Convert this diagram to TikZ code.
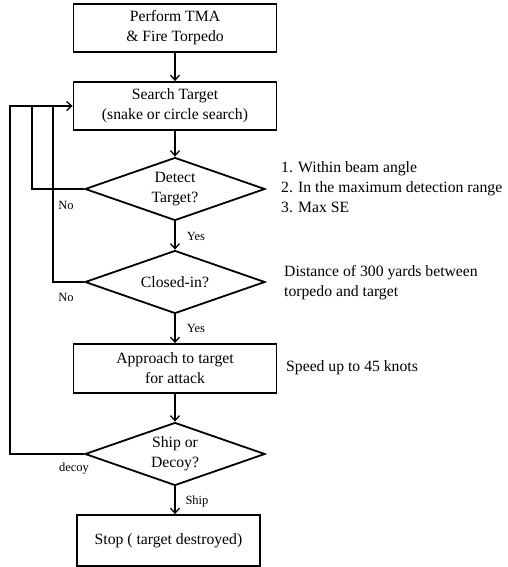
\documentclass[tikz,border=0pt]{standalone}
\usepackage{fontspec}
\setmainfont{Liberation Serif}
\usetikzlibrary{
  	shapes.geometric,
  	arrows.meta,
  	calc
  }
\tikzstyle{stepbox}=[draw,line width=1.8pt,minimum width=203pt,minimum height=48pt,inner sep=0pt,align=center]
\tikzstyle{decide}=[diamond,draw,line width=1.8pt,minimum width=180pt,minimum height=63pt,aspect=2.85,inner sep=0pt,align=center]
\tikzstyle{flow}=[line width=1.3pt,-{Straight Barb[length=5pt,width=9pt]}]
\tikzstyle{wire}=[line width=1.3pt]
\tikzstyle{note}=[anchor=west,align=left,inner sep=0pt]
\tikzstyle{tag}=[font=\fontsize{12.5}{14}\selectfont,inner sep=0pt]

\begin{document}
\begin{tikzpicture}[x=1pt,y=-1pt,font=\fontsize{15.7}{20}\selectfont]
    \useasboundingbox (0,0) rectangle (507,567);
    \node[stepbox] (tma) at (175,28) {Perform TMA\\\& Fire Torpedo};
    \node[stepbox] (search) at (175,106) {Search Target\\(snake or circle search)};
    \node[decide] (detect) at (175,189) {Detect\\Target?};
    \node[decide] (closed) at (175,282) {Closed-in?};
    \node[stepbox,minimum height=49pt] (approach) at (175,368.5) {Approach to target\\for attack};
    \node[decide] (ship) at (175,454) {Ship or\\Decoy?};
    \node[stepbox,minimum width=183pt,minimum height=51pt] (stop) at (168.5,540.5) {Stop ( target destroyed)};
    % side notes
    \node[note] (cond) at (281,187) {1. Within beam angle\\2. In the maximum detection range\\3. Max SE};
    \node[note] (dist) at (284,283) {Distance of 300 yards between\\torpedo and target};
    \node[note] (speed) at (286,368) {Speed up to 45 knots};
    % main flow
    \draw[flow] (tma) -- (search);
    \draw[flow] (search) -- (detect);
    \draw[flow] (detect) -- (closed);
    \draw[flow] (closed) -- (approach);
    \draw[flow] (approach) -- (ship);
    \draw[flow] (ship.south) -- (ship.south |- stop.north);
    % loops back to search
    \coordinate (jd) at (32,106);
    \coordinate (jc) at (53,106);
    \coordinate (js) at (10,106);
    \draw[wire] (detect.west) -| (jd);
    \draw[wire] (closed.west) -| (jc);
    \draw[flow] (ship.west) -| (js) -- (search.west);
    % labels
    \node[tag] (no1) at (66,205) {No};
    \node[tag] (no2) at (66,297) {No};
    \node[tag] (decoy) at (74,469) {decoy};
    \node[tag] (yes1) at (196,236) {Yes};
    \node[tag] (yes2) at (196,328) {Yes};
    \node[tag] (shiplbl) at (197,501) {Ship};
\end{tikzpicture}
\end{document}
